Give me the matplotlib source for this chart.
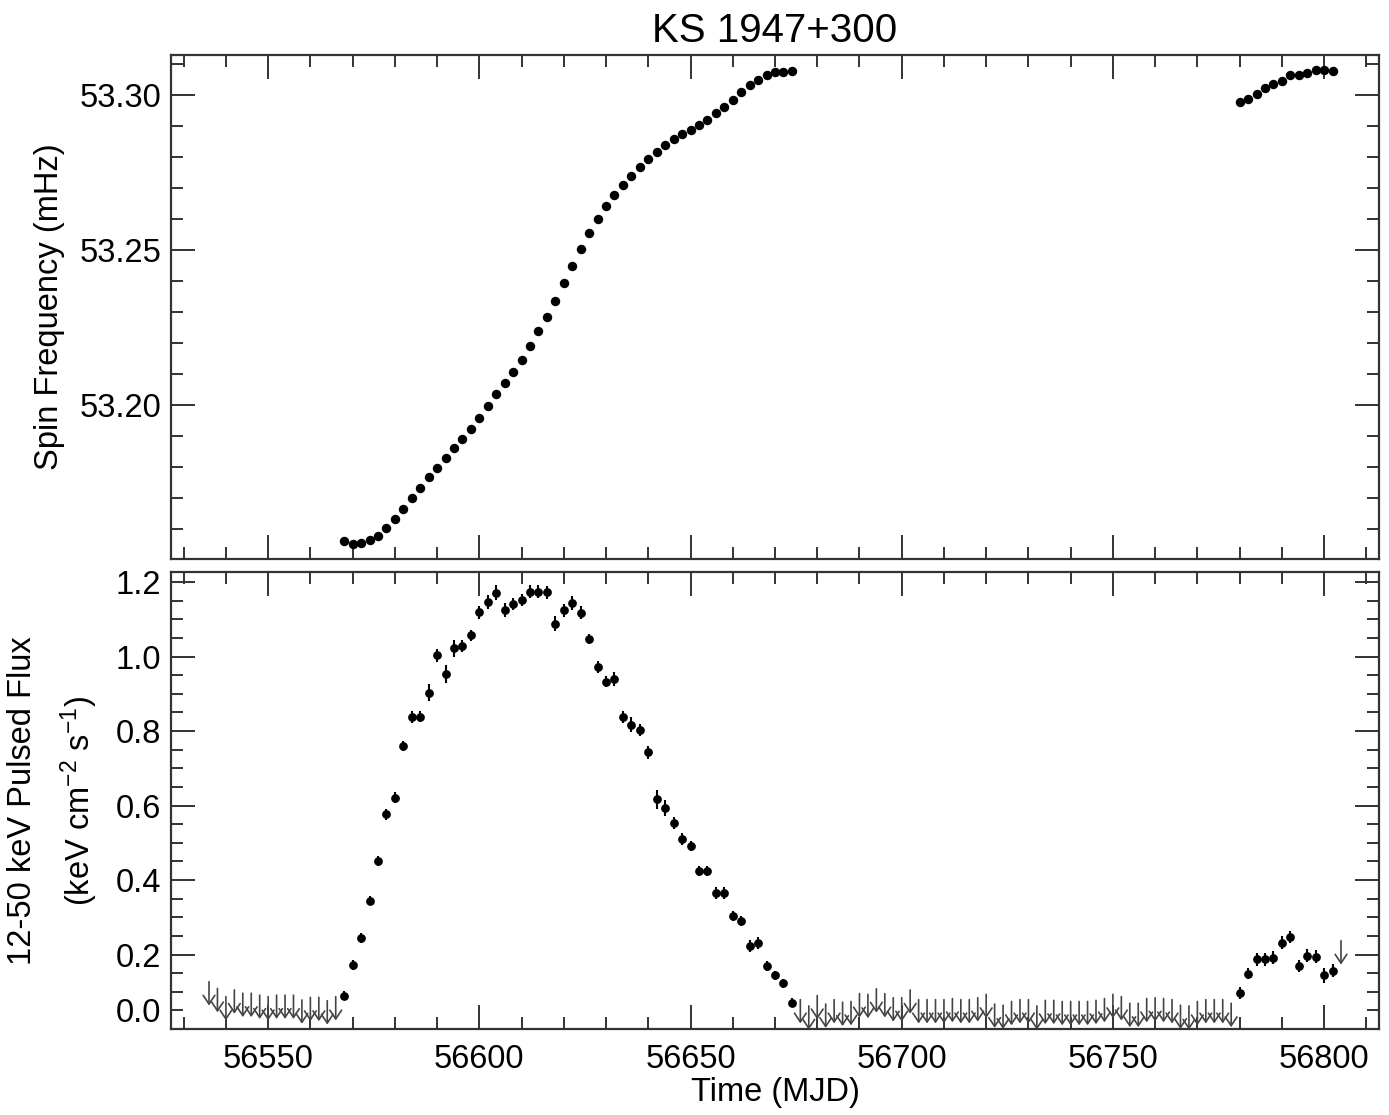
import numpy as np
import matplotlib
matplotlib.use("Agg")
import matplotlib.pyplot as plt
from matplotlib.ticker import MultipleLocator, FormatStrFormatter

plt.rcParams['font.family'] = ['Liberation Sans', 'DejaVu Sans']
plt.rcParams['mathtext.default'] = 'regular'

# spin frequency (mHz)
mjd_freq = [56568, 56570, 56572, 56574, 56576, 56578, 56580, 56582, 56584, 56586,
            56588, 56590, 56592, 56594, 56596, 56598, 56600, 56602, 56604, 56606,
            56608, 56610, 56612, 56614, 56616, 56618, 56620, 56622, 56624, 56626,
            56628, 56630, 56632, 56634, 56636, 56638, 56640, 56642, 56644, 56646,
            56648, 56650, 56652, 56654, 56656, 56658, 56660, 56662, 56664, 56666,
            56668, 56670, 56672, 56674,
            56780, 56782, 56784, 56786, 56788, 56790, 56792, 56794, 56796, 56798,
            56800, 56802]
freq = [53.1560, 53.1552, 53.1553, 53.1563, 53.1578, 53.1603, 53.1633, 53.1663, 53.1699, 53.1732,
        53.1766, 53.1797, 53.1828, 53.1860, 53.1891, 53.1922, 53.1958, 53.1996, 53.2034, 53.2072,
        53.2107, 53.2146, 53.2190, 53.2237, 53.2284, 53.2336, 53.2392, 53.2449, 53.2504, 53.2556,
        53.2601, 53.2642, 53.2678, 53.2711, 53.2740, 53.2769, 53.2794, 53.2817, 53.2839, 53.2857,
        53.2874, 53.2887, 53.2903, 53.2920, 53.2941, 53.2962, 53.2985, 53.3009, 53.3031, 53.3048,
        53.3064, 53.3074, 53.3075, 53.3076,
        53.2978, 53.2988, 53.3004, 53.3021, 53.3034, 53.3046, 53.3063, 53.3063, 53.3070, 53.3079,
        53.3079, 53.3078]

# pulsed flux detections
mjd_flux = [56568, 56570, 56572, 56574, 56576, 56578, 56580, 56582, 56584, 56586,
            56588, 56590, 56592, 56594, 56596, 56598, 56600, 56602, 56604, 56606,
            56608, 56610, 56612, 56614, 56616, 56618, 56620, 56622, 56624, 56626,
            56628, 56630, 56632, 56634, 56636, 56638, 56640, 56642, 56644, 56646,
            56648, 56650, 56652, 56654, 56656, 56658, 56660, 56662, 56664, 56666,
            56668, 56670, 56672, 56674,
            56780, 56782, 56784, 56786, 56788, 56790, 56792, 56794, 56796, 56798,
            56800, 56802]
flux = [0.089, 0.172, 0.245, 0.345, 0.451, 0.576, 0.621, 0.760, 0.838, 0.838,
        0.903, 1.003, 0.954, 1.022, 1.029, 1.057, 1.119, 1.146, 1.171, 1.125,
        1.140, 1.153, 1.174, 1.174, 1.172, 1.088, 1.124, 1.144, 1.118, 1.047,
        0.973, 0.933, 0.940, 0.837, 0.817, 0.804, 0.743, 0.617, 0.594, 0.553,
        0.510, 0.491, 0.425, 0.425, 0.365, 0.366, 0.303, 0.290, 0.224, 0.231,
        0.169, 0.144, 0.123, 0.070,
        0.097, 0.149, 0.187, 0.187, 0.192, 0.232, 0.247, 0.169, 0.197, 0.194,
        0.144, 0.157]
flux_err = [0.012, 0.013, 0.013, 0.013, 0.013, 0.014, 0.015, 0.013, 0.016, 0.015,
            0.022, 0.018, 0.024, 0.022, 0.016, 0.015, 0.017, 0.018, 0.020, 0.018,
            0.016, 0.016, 0.018, 0.018, 0.017, 0.020, 0.018, 0.018, 0.017, 0.014,
            0.016, 0.014, 0.018, 0.016, 0.020, 0.016, 0.017, 0.025, 0.022, 0.017,
            0.015, 0.014, 0.014, 0.014, 0.016, 0.016, 0.014, 0.014, 0.016, 0.016,
            0.013, 0.012, 0.012, 0.012,
            0.016, 0.016, 0.018, 0.018, 0.018, 0.017, 0.017, 0.015, 0.018, 0.018,
            0.020, 0.018]

# upper limits
mjd_ul = [56536, 56538, 56540, 56542, 56544, 56546, 56548, 56550, 56552, 56554,
          56556, 56558, 56560, 56562, 56564, 56566,
          56676, 56678, 56680, 56682, 56684, 56686, 56688, 56690, 56692, 56694,
          56696, 56698, 56700, 56702, 56704, 56706, 56708, 56710, 56712, 56714,
          56716, 56718, 56720, 56722, 56724, 56726, 56728, 56730, 56732, 56734,
          56736, 56738, 56740, 56742, 56744, 56746, 56748, 56750, 56752, 56754,
          56756, 56758, 56760, 56762, 56764, 56766, 56768, 56770, 56772, 56774,
          56776, 56778, 56804]
flux_ul = [0.127, 0.109, 0.087, 0.105, 0.096, 0.096, 0.091, 0.087, 0.091, 0.091,
           0.091, 0.078, 0.085, 0.085, 0.076, 0.087,
           0.079, 0.062, 0.090, 0.067, 0.079, 0.072, 0.074, 0.095, 0.093, 0.108,
           0.095, 0.084, 0.084, 0.105, 0.079, 0.079, 0.079, 0.079, 0.082, 0.079,
           0.079, 0.084, 0.093, 0.067, 0.064, 0.074, 0.079, 0.079, 0.062, 0.077,
           0.077, 0.074, 0.074, 0.074, 0.074, 0.077, 0.082, 0.093, 0.087, 0.069,
           0.069, 0.082, 0.084, 0.082, 0.079, 0.064, 0.062, 0.074, 0.079, 0.079,
           0.079, 0.069, 0.237]

fig = plt.figure(figsize=(13.89, 11.15), dpi=100)
ax1 = fig.add_axes([0.1231, 0.4987, 0.8697, 0.452])
ax2 = fig.add_axes([0.1231, 0.0771, 0.8697, 0.4099])

edge = '#333333'
for ax in (ax1, ax2):
    for sp in ax.spines.values():
        sp.set_linewidth(1.6)
        sp.set_color(edge)
    ax.set_xlim(56527, 56813)
    ax.xaxis.set_major_locator(MultipleLocator(50))
    ax.xaxis.set_minor_locator(MultipleLocator(10))
    ax.tick_params(which='both', direction='in', top=True, right=True,
                   color=edge, width=1.4, labelsize=23.5)
    ax.tick_params(which='major', length=17)
    ax.tick_params(which='minor', length=8.6)
    ax.tick_params(axis='y', pad=7)
    ax.tick_params(axis='x', pad=11)

# top panel
ax1.plot(mjd_freq, freq, 'o', color='black', markersize=6.8, markeredgewidth=0)
ax1.set_ylim(53.1503, 53.3129)
ax1.yaxis.set_major_locator(MultipleLocator(0.05))
ax1.yaxis.set_minor_locator(MultipleLocator(0.01))
ax1.yaxis.set_major_formatter(FormatStrFormatter('%.2f'))
ax1.tick_params(axis='x', labelbottom=False)
ax1.set_ylabel('Spin Frequency (mHz)', fontsize=23.5, labelpad=10)
ax1.set_title('KS 1947+300', fontsize=29, pad=9)

# bottom panel
ax2.errorbar(mjd_flux, flux, yerr=flux_err, fmt='o', color='black',
             markersize=6.3, markeredgewidth=0, elinewidth=1.5, capsize=0)
for t, u in zip(mjd_ul, flux_ul):
    ax2.annotate('', xy=(t, u - 0.064), xytext=(t, u), annotation_clip=False,
                 arrowprops=dict(arrowstyle='->,head_length=0.45,head_width=0.3',
                                 color='#444444', lw=1.2, shrinkA=0, shrinkB=0,
                                 mutation_scale=14))
ax2.set_ylim(0.0, 1.227)
ax2.yaxis.set_major_locator(MultipleLocator(0.2))
ax2.yaxis.set_minor_locator(MultipleLocator(0.05))
ax2.yaxis.set_major_formatter(FormatStrFormatter('%.1f'))
ax2.set_ylabel('12-50 keV Pulsed Flux\n(keV cm$^{-2}$ s$^{-1}$)', fontsize=23.5,
               labelpad=11, linespacing=1.65)
ax2.set_xlabel('Time (MJD)', fontsize=23.5, labelpad=1)
fig.canvas.draw()
for lab in ax2.get_yticklabels():
    if lab.get_text() == '0.0':
        lab.set_verticalalignment('bottom')

fig.savefig('out.png', dpi=100)
